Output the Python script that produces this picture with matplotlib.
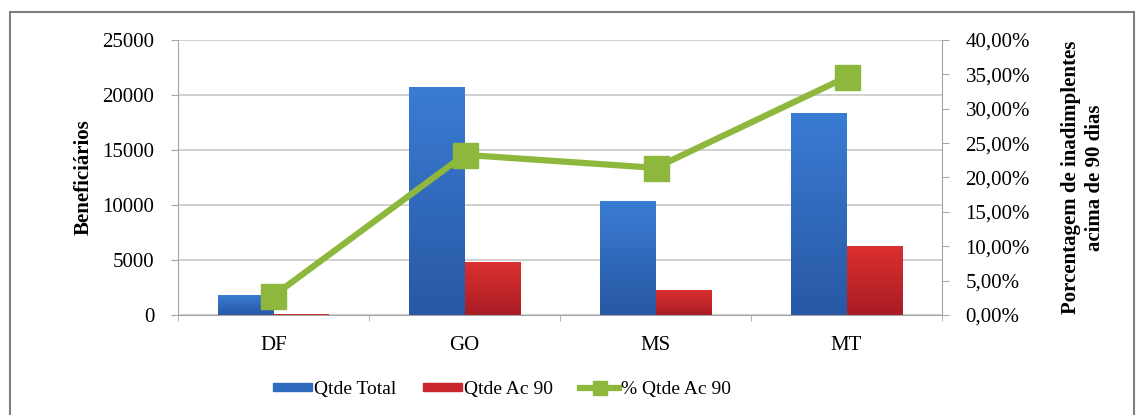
import numpy as np
import matplotlib
matplotlib.use("Agg")
from matplotlib import pyplot as plt
from matplotlib.patches import Rectangle
from matplotlib.lines import Line2D
from matplotlib.colors import LinearSegmentedColormap
from matplotlib.ticker import FuncFormatter, MultipleLocator

# dados
estados = ["DF", "GO", "MS", "MT"]
qtde_total = [1800, 20700, 10400, 18400]
qtde_ac90 = [50, 4800, 2250, 6300]
pct_ac90 = [2.8, 23.3, 21.4, 34.6]

plt.rcParams['font.family'] = ['Liberation Serif', 'DejaVu Serif']

azul = "#2f6cc0"
vermelho = "#c8262c"
verde = "#8db83d"
cinza = "#a6a6a6"

grad_azul = LinearSegmentedColormap.from_list("ga", ["#2858a4", "#3a7cd4"])
grad_vermelho = LinearSegmentedColormap.from_list("gv", ["#a81c24", "#dc3030"])


def barras_gradiente(ax, xs, valores, cmap, cor):
    barras = ax.bar(xs, valores, largura, color=cor, zorder=2)
    gradiente = np.linspace(0, 1, 256).reshape(-1, 1)
    for b in barras:
        x0, y0 = b.get_x(), b.get_y()
        w, h = b.get_width(), b.get_height()
        if h <= 0:
            continue
        im = ax.imshow(gradiente, cmap=cmap, aspect='auto', origin='lower',
                       extent=(x0, x0 + w, y0, y0 + h), zorder=2.1)
        im.set_clip_path(b)
    return barras


fig = plt.figure(figsize=(11.41, 4.15), dpi=100)
fig.patches.append(Rectangle((0.009, -0.01), 0.985, 0.98, transform=fig.transFigure,
                             fill=False, edgecolor="#808080", linewidth=1.5))

ax = fig.add_axes([0.156, 0.241, 0.6696, 0.6626])
x = np.arange(len(estados))
largura = 0.29
barras_gradiente(ax, x - largura / 2, qtde_total, grad_azul, azul)
barras_gradiente(ax, x + largura / 2, qtde_ac90, grad_vermelho, vermelho)

ax.set_xlim(-0.5, len(estados) - 0.5)
ax.set_ylim(0, 25000)
ax.yaxis.set_major_locator(MultipleLocator(5000))
ax.grid(axis='y', color="#c8c8c8", linewidth=1.2, zorder=0)
ax.set_axisbelow(True)
ax.set_xticks(x)
ax.set_xticklabels(estados, fontsize=15)
ax.set_xticks(np.arange(-0.5, len(estados)), minor=True)
ax.tick_params(axis='x', which='major', length=0, pad=15)
ax.tick_params(axis='x', which='minor', length=4, color=cinza)
ax.tick_params(axis='y', labelsize=15, length=5, color=cinza, pad=12)
for lado in ["top", "right"]:
    ax.spines[lado].set_visible(False)
ax.spines["left"].set_color(cinza)
ax.spines["bottom"].set_color(cinza)
ax.set_ylabel("Beneficiários", fontsize=15, fontweight='bold', labelpad=6)

ax2 = ax.twinx()
ax2.plot(x, pct_ac90, color=verde, linewidth=4.5, marker='s', markersize=18,
         markerfacecolor=verde, markeredgecolor=verde, zorder=3)
ax2.set_ylim(0, 40)
ax2.yaxis.set_major_locator(MultipleLocator(5))
ax2.yaxis.set_major_formatter(FuncFormatter(lambda v, p: f"{v:.2f}%".replace(".", ",")))
ax2.tick_params(axis='y', labelsize=15, length=5, color=cinza, pad=12)
for lado in ["top", "left", "bottom"]:
    ax2.spines[lado].set_visible(False)
ax2.spines["right"].set_color(cinza)
ax2.set_ylabel("Porcentagem de inadimplentes\nacima de 90 dias", fontsize=15,
               fontweight='bold', rotation=90, labelpad=22, linespacing=1.25)

handles = [
    Rectangle((0, 0), 1, 1, color=azul),
    Rectangle((0, 0), 1, 1, color=vermelho),
    Line2D([0], [0], color=verde, linewidth=4.5, marker='s', markersize=10),
]
fig.legend(handles, ["Qtde Total", "Qtde Ac 90", "% Qtde Ac 90"],
           loc='center', bbox_to_anchor=(0.44, 0.062), ncol=3, frameon=False,
           fontsize=14, handlelength=2.0, handleheight=0.28, handletextpad=0.1,
           columnspacing=1.4)

fig.savefig("out.png", dpi=100)
